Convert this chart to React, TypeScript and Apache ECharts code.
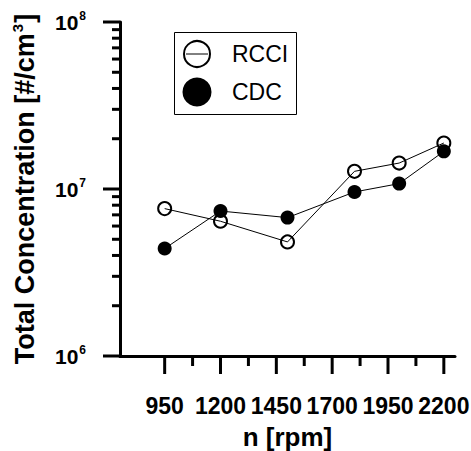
import React, { useEffect, useRef } from "react";
import * as echarts from "echarts";

// Engine speed [rpm] and total particle number concentration [#/cm3]
const rpm = [950, 1200, 1500, 1800, 2000, 2200];
const rcci = [7.63e6, 6.41e6, 4.82e6, 1.276e7, 1.43e7, 1.885e7];
const cdc = [4.4e6, 7.38e6, 6.74e6, 9.6e6, 1.077e7, 1.68e7];

const xMajorTicks = [950, 1200, 1450, 1700, 1950, 2200];
const xMinorTicks = [1075, 1325, 1575, 1825, 2075];
const yMajorTicks = [1e6, 1e7, 1e8];
const yMinorTicks = [
  2e6, 3e6, 4e6, 5e6, 6e6, 7e6, 8e6, 9e6,
  2e7, 3e7, 4e7, 5e7, 6e7, 7e7, 8e7, 9e7,
];

const X_MIN = 750;
const X_MAX = 2250;
const Y_MIN = 1e6;
const Y_MAX = 1e8;

const FONT = "'Liberation Sans', Arial, Helvetica, sans-serif";

export default function App() {
  const ref = useRef<HTMLDivElement>(null);

  useEffect(() => {
    if (!ref.current) return;
    const chart = echarts.init(ref.current, undefined, { renderer: "svg" });

    const axisLine = { show: true, onZero: false, lineStyle: { color: "#000", width: 3 } };

    chart.setOption({
      animation: false,
      backgroundColor: "#fff",
      grid: {
        left: 120,
        top: 22,
        width: 335,
        height: 334,
        containLabel: false,
        outerBoundsMode: "none",
      },
      xAxis: {
        type: "value",
        min: X_MIN,
        max: X_MAX,
        axisLine,
        splitLine: { show: false },
        axisTick: { show: false },
        axisLabel: {
          customValues: xMajorTicks,
          formatter: (v: number) => String(v),
          hideOverlap: false,
          showMinLabel: true,
          showMaxLabel: true,
          margin: 38,
          color: "#000",
          fontFamily: FONT,
          fontWeight: "bold",
          fontSize: 23,
        },
        name: "n [rpm]",
        nameLocation: "middle",
        nameGap: 68,
        nameTextStyle: {
          color: "#000",
          fontFamily: FONT,
          fontWeight: "bold",
          fontSize: 26,
        },
      },
      yAxis: {
        type: "log",
        logBase: 10,
        min: Y_MIN,
        max: Y_MAX,
        axisLine,
        splitLine: { show: false },
        axisTick: { show: false },
        axisLabel: {
          customValues: yMajorTicks,
          margin: 34,
          formatter: (v: number) => `{b|10}{s|${Math.round(Math.log10(v))}}`,
          rich: {
            b: {
              color: "#000",
              fontFamily: FONT,
              fontWeight: "bold",
              fontSize: 21,
              lineHeight: 24,
            },
            s: {
              color: "#000",
              fontFamily: FONT,
              fontWeight: "bold",
              fontSize: 12,
              lineHeight: 24,
              verticalAlign: "top",
              padding: [0, 0, 12, 1],
            },
          },
        },
        name: "{t|Total Concentration [#/cm}{s|3}{t|]}",
        nameLocation: "middle",
        nameRotate: 90,
        nameGap: 80,
        nameTextStyle: {
          rich: {
            t: {
              color: "#000",
              fontFamily: FONT,
              fontWeight: "bold",
              fontSize: 27,
              lineHeight: 30,
            },
            s: {
              color: "#000",
              fontFamily: FONT,
              fontWeight: "bold",
              fontSize: 15,
              lineHeight: 30,
              verticalAlign: "top",
              padding: [0, 1, 14, 1],
            },
          },
        },
      },
      series: [
        {
          name: "RCCI",
          type: "line",
          data: rpm.map((x, i) => [x, rcci[i]]),
          symbol: "circle",
          symbolSize: 13,
          lineStyle: { color: "#000", width: 1 },
          itemStyle: { color: "rgba(0,0,0,0)", borderColor: "#000", borderWidth: 2 },
        },
        {
          name: "CDC",
          type: "line",
          data: rpm.map((x, i) => [x, cdc[i]]),
          symbol: "circle",
          symbolSize: 14,
          lineStyle: { color: "#000", width: 1 },
          itemStyle: { color: "#000", borderColor: "#000", borderWidth: 0 },
        },
      ],
    });

    // Tick marks, placed through the chart's own axis scales
    const toPx = (x: number, y: number) =>
      chart.convertToPixel({ seriesIndex: 0 }, [x, y]) as number[];

    const TW = 3; // tick thickness
    const yTick = (v: number, len: number) => {
      const p = toPx(X_MIN, v);
      return {
        type: "rect",
        silent: true,
        shape: { x: p[0] - len, y: p[1] - TW / 2, width: len, height: TW },
        style: { fill: "#000" },
      };
    };
    const xTick = (v: number, len: number) => {
      const p = toPx(v, Y_MIN);
      return {
        type: "rect",
        silent: true,
        shape: { x: p[0] - TW / 2, y: p[1], width: TW, height: len },
        style: { fill: "#000" },
      };
    };

    const ticks = [
      ...yMajorTicks.map((v) => yTick(v, 17)),
      ...yMinorTicks.map((v) => yTick(v, 8)),
      ...xMajorTicks.map((v) => xTick(v, 18)),
      ...xMinorTicks.map((v) => xTick(v, 10)),
    ];

    // Legend box
    const legend = [
      {
        type: "rect",
        shape: { x: 174.5, y: 32.5, width: 122, height: 82 },
        style: { fill: "none", stroke: "#000", lineWidth: 1 },
      },
      {
        type: "circle",
        shape: { cx: 197, cy: 54, r: 13 },
        style: { fill: "none", stroke: "#000", lineWidth: 2 },
      },
      {
        type: "line",
        shape: { x1: 186, y1: 54, x2: 208, y2: 54 },
        style: { stroke: "#000", lineWidth: 1 },
      },
      {
        type: "circle",
        shape: { cx: 197, cy: 92, r: 14.5 },
        style: { fill: "#000" },
      },
      {
        type: "text",
        x: 232,
        y: 54,
        style: {
          text: "RCCI",
          fill: "#000",
          font: `23px ${FONT}`,
          verticalAlign: "middle",
        },
      },
      {
        type: "text",
        x: 232,
        y: 92,
        style: {
          text: "CDC",
          fill: "#000",
          font: `23px ${FONT}`,
          verticalAlign: "middle",
        },
      },
    ];

    chart.setOption({ graphic: [...legend, ...ticks] });

    return () => chart.dispose();
  }, []);

  return (
    <div
      ref={ref}
      style={{ position: "fixed", left: 0, top: 0, width: 471, height: 451 }}
    />
  );
}
